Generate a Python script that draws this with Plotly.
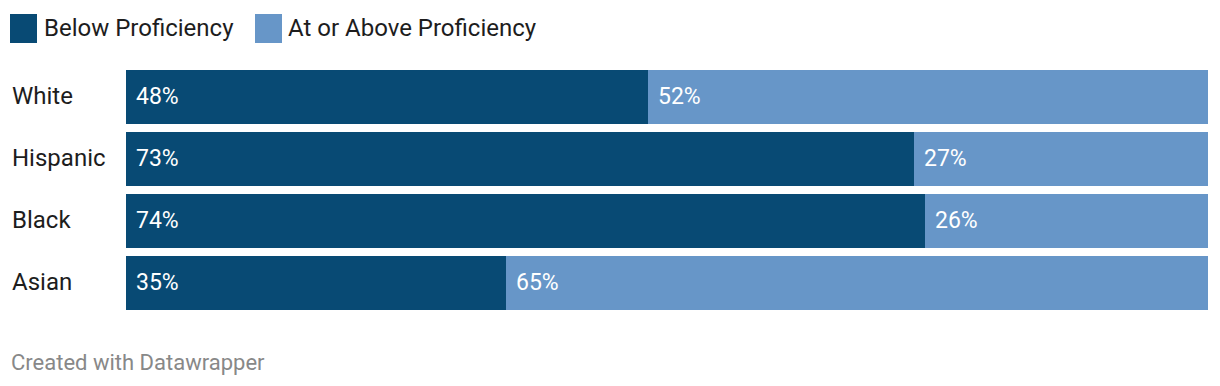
import plotly.graph_objects as go

categories = ["White", "Hispanic", "Black", "Asian"]
below = [48.2, 72.8, 73.8, 35.1]
above = [51.8, 27.2, 26.2, 64.9]
series_names = ["Below Proficiency", "At or Above Proficiency"]
colors = ["#084a74", "#6796c8"]
footer = "Created with Datawrapper"

# page body has an 8px margin; work in window pixel coords and offset
OFF = 8
W, H = 1220 - OFF, 386 - OFF
L, R, T, B = 126 - OFF, 12, 66 - OFF, 72
pw, ph = W - L - R, H - T - B

def px(x):
    return (x - OFF - L) / pw

def py(y):
    return (H - B - (y - OFF)) / ph

FONT = "Roboto"

fig = go.Figure()
fig.add_trace(go.Bar(y=categories, x=below, orientation="h", name=series_names[0],
                     marker=dict(color=colors[0], line=dict(width=0)), hoverinfo="skip"))
fig.add_trace(go.Bar(y=categories, x=above, orientation="h", name=series_names[1],
                     marker=dict(color=colors[1], line=dict(width=0)), hoverinfo="skip"))

annotations = []
for c, b, a in zip(categories, below, above):
    annotations.append(dict(x=0, y=c, xref="x", yref="y", text=f"{b:.0f}%", showarrow=False,
                            xanchor="left", xshift=8, yshift=1, font=dict(family=FONT, size=23, color="white")))
    annotations.append(dict(x=b, y=c, xref="x", yref="y", text=f"{a:.0f}%", showarrow=False,
                            xanchor="left", xshift=8, yshift=1, font=dict(family=FONT, size=23, color="white")))
    annotations.append(dict(x=0, y=c, xref="paper", yref="y", text=c, showarrow=False,
                            xanchor="left", xshift=-116, yshift=1, font=dict(family=FONT, size=24, color="#1d1d1d")))

# legend
shapes = []
leg = [(10, 42), (255, 286)]
for (sx, tx), name, col in zip(leg, series_names, colors):
    shapes.append(dict(type="rect", xref="paper", yref="paper", x0=px(sx), x1=px(sx + 27),
                       y0=py(43), y1=py(14), fillcolor=col, line=dict(width=0)))
    annotations.append(dict(x=px(tx), y=py(28), xref="paper", yref="paper", text=name,
                            showarrow=False, xanchor="left", yanchor="middle",
                            font=dict(family=FONT, size=24, color="#1d1d1d")))

annotations.append(dict(x=px(9), y=py(362), xref="paper", yref="paper", text=footer,
                        showarrow=False, xanchor="left", yanchor="middle",
                        font=dict(family=FONT, size=22, color="#888888")))

fig.update_layout(
    width=W, height=H, barmode="stack", bargap=8 / 62,
    margin=dict(l=L, r=R, t=T, b=B), showlegend=False,
    paper_bgcolor="white", plot_bgcolor="white",
    xaxis=dict(range=[0, 100], visible=False, fixedrange=True),
    yaxis=dict(autorange="reversed", visible=False, fixedrange=True),
    annotations=annotations, shapes=shapes,
)
fig.write_html("out.html", config={"displayModeBar": False})
